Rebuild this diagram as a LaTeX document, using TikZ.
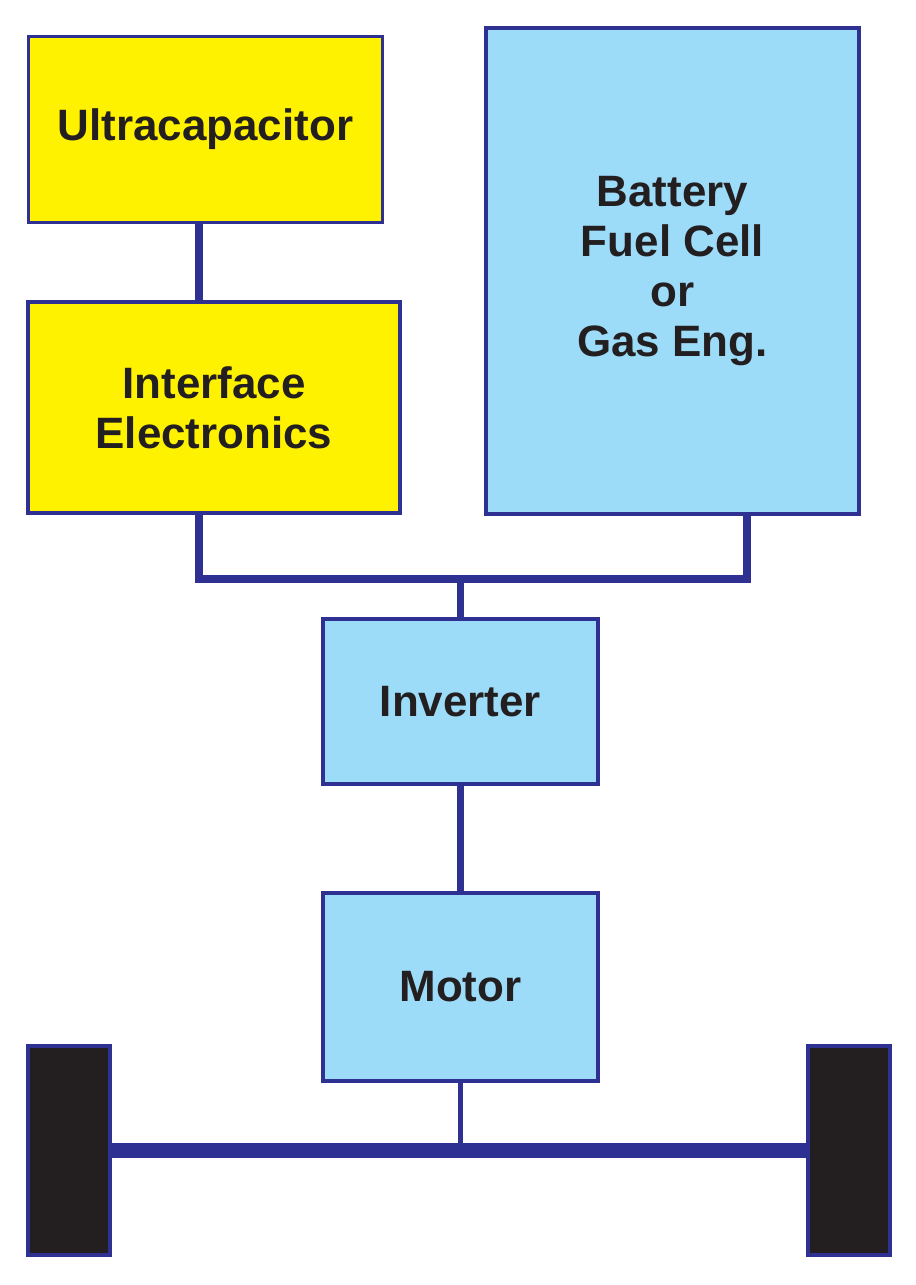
\documentclass[tikz,border=0pt]{standalone}
\usepackage{fontspec}
\setmainfont{Liberation Sans}
\usepackage{tikz}
\usetikzlibrary{positioning}
\usepackage{xcolor}
\definecolor{linkblue}{HTML}{2E3192}
\definecolor{capyellow}{HTML}{FFF200}
\definecolor{powerblue}{HTML}{9DDCF9}
\definecolor{tyreblack}{HTML}{231F20}

\begin{document}
\begin{tikzpicture}[x=0.02cm, y=-0.02cm,
      ybox/.style={rectangle, draw=linkblue, line width=2pt, fill=capyellow, text=tyreblack, inner sep=0pt, align=center, font=\fontsize{25}{28.5}\selectfont\bfseries},
      bbox/.style={ybox, fill=powerblue},
      wheel/.style={rectangle, draw=linkblue, line width=2pt, fill=tyreblack, inner sep=0pt, minimum width=1.64cm, minimum height=4.18cm},
      link/.style={draw=linkblue, line width=4pt},
      axle/.style={draw=linkblue, line width=8.5pt},
    ]
    \useasboundingbox (0,0) rectangle (916,1285);

    \node[ybox, minimum width=7.08cm, minimum height=3.72cm] (ucap) at (205.5,129.5) {Ultracapacitor};
    \node[ybox, minimum width=7.44cm, minimum height=4.22cm] (iface) at (214,407.5) {Interface\\Electronics};
    \node[bbox, minimum width=7.46cm, minimum height=9.72cm] (batt) at (672.5,271) {Battery\\Fuel Cell\\or\\Gas Eng.};
    \node[bbox, minimum width=5.5cm, minimum height=3.3cm] (inv) at (460.5,701.5) {Inverter};
    \node[bbox, minimum width=5.5cm, minimum height=3.76cm] (motor) at (460.5,987) {Motor};

    \node[wheel] (lwheel) at (69,1150.5) {};
    \node[wheel] (rwheel) at (849,1150.5) {};

    \coordinate (busl) at (199,579);
    \coordinate (busr) at (747,579);
    \coordinate (busm) at (460.5,579);

    \draw[link] (ucap.south -| busl) -- (iface.north -| busl);
    \draw[link] (iface.south -| busl) |- (busr) -- (batt.south -| busr);
    \draw[link] (busm) -- (inv.north);
    \draw[link] (inv.south) -- (motor.north);
    \draw[link, line width=2.8pt] (motor.south) -- (motor.south |- lwheel.center);
    \draw[axle] (lwheel.east) -- (rwheel.west);
  \end{tikzpicture}
\end{document}
